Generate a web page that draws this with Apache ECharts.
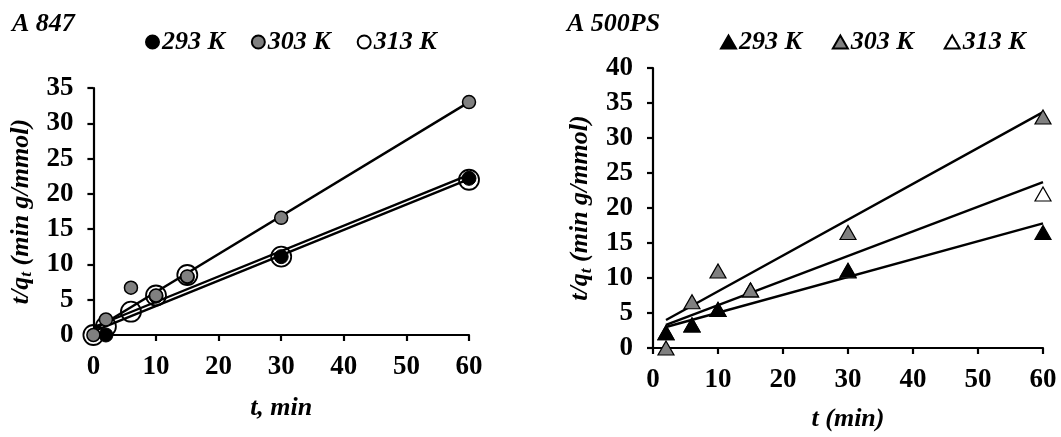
<!DOCTYPE html>
<html><head><meta charset="utf-8">
<script src="https://cdn.jsdelivr.net/npm/echarts@6/dist/echarts.min.js"></script>
<style>html,body{margin:0;padding:0;background:#fff;}#c1{position:absolute;left:0;top:0;width:530px;height:437px;}#c2{position:absolute;left:530px;top:0;width:531px;height:437px;}</style>
</head><body>
<div id="c1"></div><div id="c2"></div>
<script>
// ---- A 847 data (circles) ----
const t847_293 = [2, 10, 15, 30, 60];
const q847_293 = [0, 5.5, 8.2, 11.1, 22.2];
const t847_303 = [0, 2, 6, 10, 15, 30, 60];
const q847_303 = [0, 2.2, 6.7, 5.6, 8.3, 16.6, 33];
const t847_313 = [0, 2, 6, 10, 15, 30, 60];
const q847_313 = [0, 1.2, 3.3, 5.6, 8.5, 11.1, 22];
const fitT847 = [0, 60];
const fit847_293 = [1.1, 22.7];
const fit847_303 = [0.7, 33];
const fit847_313 = [0.5, 22.1];
// ---- A 500PS data (triangles) ----
const t500_293 = [2, 6, 10, 30, 60];
const q500_293 = [2.2, 3.3, 5.5, 11.1, 16.5];
const t500_303 = [2, 6, 10, 15, 30, 60];
const q500_303 = [0, 6.6, 11, 8.3, 16.5, 33];
const t500_313 = [2, 6, 10, 15, 30, 60];
const q500_313 = [2.2, 3.3, 5.5, 8.3, 11, 22];
const fitT500 = [2, 60];
const fit500_293 = [3.0, 17.8];
const fit500_303 = [4.0, 33.7];
const fit500_313 = [3.3, 23.7];

const seriesNames = ['293 K', '303 K', '313 K'];
const FONT = '"Liberation Serif", "Times New Roman", serif';

function pairs(xs, ys) { return xs.map((x, i) => [x, ys[i]]); }

function baseAxisStyle() {
  return {
    axisLine: { show: true, lineStyle: { color: '#000', width: 2.2 } },
    axisTick: { show: true, inside: false, length: 6, lineStyle: { color: '#000', width: 2.2 } },
    splitLine: { show: false },
    axisLabel: { color: '#000', fontFamily: FONT, fontWeight: 'bold', fontSize: 27 }
  };
}

function makeOption(cfg) {
  const xa = baseAxisStyle();
  Object.assign(xa, {
    type: 'value', min: 0, max: 60, interval: 10,
    name: cfg.xName, nameLocation: 'middle', nameGap: cfg.xNameGap,
    nameTextStyle: { color: '#000', fontFamily: FONT, fontWeight: 'bold', fontStyle: 'italic', fontSize: 26, verticalAlign: 'middle' }
  });
  xa.axisLabel = Object.assign({}, xa.axisLabel, { margin: 19 });
  const ya = baseAxisStyle();
  Object.assign(ya, {
    type: 'value', min: 0, max: cfg.yMax, interval: 5,
    name: 't/q{sub|t} (min g/mmol)', nameLocation: 'middle', nameGap: cfg.yNameGap, nameRotate: 90,
    nameTextStyle: {
      color: '#000', fontFamily: FONT, fontWeight: 'bold', fontStyle: 'italic', fontSize: 26, verticalAlign: 'middle',
      rich: { sub: { fontFamily: FONT, fontWeight: 'bold', fontStyle: 'italic', fontSize: 17, color: '#000', padding: [12, 0, 0, 0] } }
    }
  });
  ya.axisLabel = Object.assign({}, ya.axisLabel, { margin: 20 });
  const fitSeries = cfg.fits.map(f => ({
    type: 'line', data: pairs(cfg.fitT, f), showSymbol: false, symbol: 'none', silent: true,
    lineStyle: { color: '#000', width: 2.4 }, z: 1
  }));
  const pts = cfg.points.map(p => ({
    type: 'scatter', name: p.name, data: pairs(p.t, p.q), symbol: cfg.symbol, symbolSize: p.size,
    itemStyle: { color: p.fill, borderColor: '#000', borderWidth: p.bw, opacity: 1 }, z: p.z
  }));
  return {
    animation: false,
    backgroundColor: '#fff',
    title: { text: cfg.title, left: cfg.titleLeft, top: 11, padding: 0,
      textStyle: { color: '#000', fontFamily: FONT, fontWeight: 'bold', fontStyle: 'italic', fontSize: 26 } },
    legend: {
      data: seriesNames, left: cfg.legendLeft, top: 29, padding: 0,
      itemWidth: cfg.iconW, itemHeight: cfg.iconH, itemGap: cfg.legendGap, icon: cfg.symbol,
      textStyle: { color: '#000', fontFamily: FONT, fontWeight: 'bold', fontStyle: 'italic', fontSize: 26, padding: [0, 0, 0, -2] }
    },
    grid: { left: cfg.grid[0], top: cfg.grid[1], width: cfg.grid[2], height: cfg.grid[3], containLabel: false },
    xAxis: xa, yAxis: ya,
    series: fitSeries.concat(pts)
  };
}

const chart1 = echarts.init(document.getElementById('c1'), null, { renderer: 'canvas' });
chart1.setOption(makeOption({
  title: 'A 847', titleLeft: 12, legendLeft: 145, iconW: 13, iconH: 13, legendGap: 26,
  symbol: 'circle', xName: 't, min', xNameGap: 73, yNameGap: 68, yMax: 35,
  grid: [93, 88, 376, 247], fitT: fitT847,
  fits: [fit847_293, fit847_303, fit847_313],
  points: [
    { name: '313 K', t: t847_313, q: q847_313, fill: 'rgba(255,255,255,0)', size: 20, bw: 1.8, z: 2 },
    { name: '293 K', t: t847_293, q: q847_293, fill: '#000', size: 14, bw: 1, z: 3 },
    { name: '303 K', t: t847_303, q: q847_303, fill: '#808080', size: 13, bw: 1.5, z: 4 }
  ]
}));

const chart2 = echarts.init(document.getElementById('c2'), null, { renderer: 'canvas' });
chart2.setOption(makeOption({
  title: 'A 500PS', titleLeft: 37, legendLeft: 190, iconW: 15, iconH: 13, legendGap: 30,
  symbol: 'triangle', xName: 't (min)', xNameGap: 71, yNameGap: 66, yMax: 40,
  grid: [123, 68, 390, 284], fitT: fitT500,
  fits: [fit500_293, fit500_303, fit500_313],
  points: [
    { name: '313 K', t: t500_313, q: q500_313, fill: '#fff', size: [16, 14], bw: 1.2, z: 2 },
    { name: '293 K', t: t500_293, q: q500_293, fill: '#000', size: [16, 14], bw: 1.2, z: 3 },
    { name: '303 K', t: t500_303, q: q500_303, fill: '#808080', size: [16, 14], bw: 1.2, z: 4 }
  ]
}));
</script>
</body></html>
